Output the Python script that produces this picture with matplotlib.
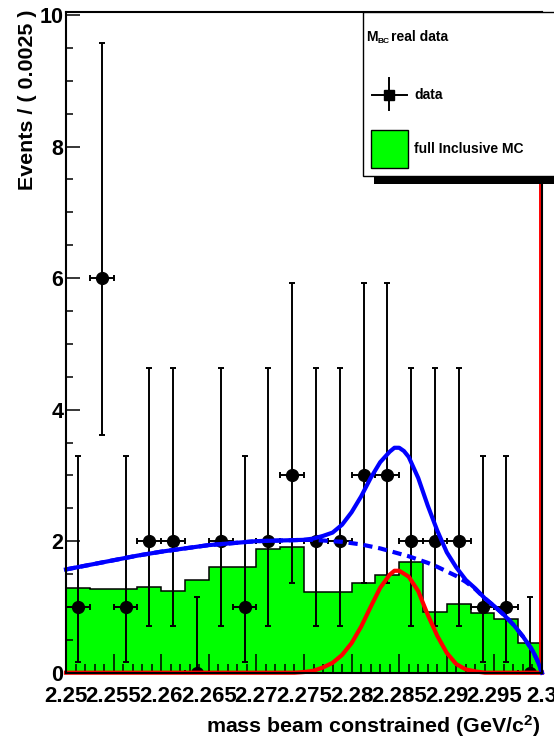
import matplotlib
matplotlib.use("Agg")
import matplotlib.pyplot as plt
from matplotlib.lines import Line2D
from matplotlib.patches import Rectangle
from matplotlib.ticker import MultipleLocator

plt.rcParams["font.family"] = ["Liberation Sans", "DejaVu Sans"]
plt.rcParams["font.weight"] = "bold"
plt.rcParams["mathtext.fontset"] = "custom"
plt.rcParams["mathtext.rm"] = "Liberation Sans:bold"
plt.rcParams["mathtext.bf"] = "Liberation Sans:bold"
plt.rcParams["mathtext.default"] = "rm"

# ---- data ----
# binning of the histogram (bin width 0.0025)
bin_edges = [2.25, 2.2525, 2.255, 2.2575, 2.26, 2.2625, 2.265, 2.2675, 2.27,
             2.2725, 2.275, 2.2775, 2.28, 2.2825, 2.285, 2.2875, 2.29,
             2.2925, 2.295, 2.2975, 2.30]
mc_counts = [1.29, 1.27, 1.27, 1.31, 1.24, 1.41, 1.61, 1.61, 1.88, 1.91,
             1.23, 1.23, 1.37, 1.49, 1.69, 0.92, 1.05, 0.91, 0.81, 0.45]

data_mass = [2.25125, 2.25375, 2.25625, 2.25875, 2.26125, 2.26375, 2.26625,
             2.26875, 2.27125, 2.27375, 2.27625, 2.27875, 2.28125, 2.28375,
             2.28625, 2.28875, 2.29125, 2.29375, 2.29625, 2.29875]
data_counts = [1, 6, 1, 2, 2, 0, 2, 1, 2, 3, 2, 2, 3, 3, 2, 2, 2, 1, 1, 0]
data_low = [0.17, 3.61, 0.17, 0.71, 0.71, 0.0, 0.71, 0.17, 0.71, 1.37,
            0.71, 0.71, 1.37, 1.37, 0.71, 0.71, 0.71, 0.17, 0.17, 0.0]
data_high = [3.30, 9.58, 3.30, 4.64, 4.64, 1.15, 4.64, 3.30, 4.64, 5.92,
             4.64, 4.64, 5.92, 5.92, 4.64, 4.64, 4.64, 3.30, 3.30, 1.15]
half_bin = 0.00125

# total fit (signal + background)
fit_mass = [2.250, 2.2525, 2.255, 2.2575, 2.260, 2.2625, 2.265, 2.2675, 2.270,
            2.2725, 2.275, 2.276, 2.277, 2.278, 2.279, 2.280, 2.281, 2.282,
            2.283, 2.284, 2.2845, 2.285, 2.2855, 2.286, 2.287, 2.288, 2.289,
            2.290, 2.291, 2.292, 2.293, 2.294, 2.295, 2.296, 2.297, 2.298,
            2.299, 2.2995, 2.300]
fit_total = [1.57, 1.64, 1.71, 1.78, 1.84, 1.89, 1.94, 1.97, 2.00,
             2.01, 2.02, 2.04, 2.08, 2.13, 2.25, 2.44, 2.68, 2.96,
             3.20, 3.36, 3.42, 3.42, 3.37, 3.28, 2.96, 2.54, 2.16,
             1.83, 1.60, 1.41, 1.28, 1.13, 1.01, 0.88, 0.73, 0.55,
             0.34, 0.19, 0.0]

# background component (dashed)
bkg_mass = [2.250, 2.2525, 2.255, 2.2575, 2.260, 2.2625, 2.265, 2.2675, 2.270,
            2.2725, 2.275, 2.276, 2.277, 2.278, 2.279, 2.280, 2.281, 2.282,
            2.283, 2.284, 2.285, 2.286, 2.287, 2.288, 2.289, 2.290, 2.291,
            2.292, 2.293, 2.294, 2.295, 2.296, 2.297, 2.298, 2.299, 2.2995,
            2.300]
bkg_vals = [1.57, 1.64, 1.71, 1.78, 1.84, 1.89, 1.94, 1.97, 2.00,
            2.01, 2.02, 2.02, 2.01, 2.00, 1.99, 1.97, 1.95, 1.92,
            1.89, 1.85, 1.81, 1.77, 1.72, 1.67, 1.61, 1.54, 1.47,
            1.38, 1.27, 1.13, 1.01, 0.88, 0.73, 0.55, 0.34, 0.19,
            0.0]

# signal component (red gaussian)
sig_mass = [2.250, 2.274, 2.275, 2.276, 2.277, 2.278, 2.279, 2.280, 2.281,
            2.282, 2.283, 2.284, 2.2845, 2.285, 2.286, 2.287, 2.288, 2.289,
            2.290, 2.291, 2.292, 2.293, 2.294, 2.300]
sig_vals = [0.0, 0.0, 0.01, 0.03, 0.08, 0.15, 0.27, 0.45, 0.70,
            1.00, 1.29, 1.49, 1.55, 1.55, 1.46, 1.24, 0.88, 0.56,
            0.30, 0.13, 0.05, 0.02, 0.0, 0.0]

x_ticks = [2.25, 2.255, 2.26, 2.265, 2.27, 2.275, 2.28, 2.285, 2.29, 2.295, 2.30]
x_tick_labels = ["2.25", "2.255", "2.26", "2.265", "2.27", "2.275", "2.28",
                 "2.285", "2.29", "2.295", "2.3"]
y_ticks = [0, 2, 4, 6, 8, 10]
y_tick_labels = ["0", "2", "4", "6", "8", "10"]

W, H = 554, 738


def fx(px):
    return px / W


def fy(py):
    return 1 - py / H


fig = plt.figure(figsize=(W / 100, H / 100), dpi=100)
ax = fig.add_axes([fx(66), fy(672.7), fx(542) - fx(66), fy(11.7) - fy(672.7)])

# MC histogram
ax.stairs(mc_counts, bin_edges, fill=True, color="#00ff00", zorder=1)
ax.stairs(mc_counts, bin_edges, color="black", lw=1.1, baseline=0, zorder=1.1)

# data points
lo_err = [c - l for c, l in zip(data_counts, data_low)]
hi_err = [h - c for c, h in zip(data_counts, data_high)]
ax.errorbar(data_mass, data_counts, yerr=[lo_err, hi_err], xerr=half_bin,
            fmt="o", color="black", ms=8.5, elinewidth=1.4, capsize=2.5,
            capthick=1.4, zorder=3)

# red vertical line at the right edge
ax.plot([2.2998, 2.2998], [0, 10.05], color="red", lw=1.4, zorder=2)

# fit curves
ax.plot(bkg_mass, bkg_vals, color="#0000ff", lw=3, ls=(0, (2.2, 1.4)),
        zorder=4, clip_on=False)
ax.plot(fit_mass, fit_total, color="#0000ff", lw=3, zorder=4.2, clip_on=False)
ax.plot(sig_mass, sig_vals, color="#ff0000", lw=3, zorder=4.1, clip_on=False)

ax.set_xlim(2.25, 2.30)
ax.set_ylim(0, 10.05)
ax.set_xticks(x_ticks, x_tick_labels)
ax.set_yticks(y_ticks, y_tick_labels)
ax.xaxis.set_minor_locator(MultipleLocator(0.001))
ax.yaxis.set_minor_locator(MultipleLocator(0.5))
ax.tick_params(axis="both", which="both", direction="in", top=False,
               right=False, width=1.1)
ax.tick_params(axis="x", which="major", length=13.5, pad=9.5, labelsize=16)
ax.tick_params(axis="x", which="minor", length=6.5)
ax.tick_params(axis="y", which="major", length=10, pad=2, labelsize=15.5)
ax.tick_params(axis="y", which="minor", length=5)
for sp in ax.spines.values():
    sp.set_linewidth(1.5)
    sp.set_zorder(5)

# axis titles
fig.text(fx(540), fy(733), r"mass beam constrained (GeV/c$^{2}$)",
         ha="right", va="baseline", fontsize=15.4, fontweight="bold")
fig.text(fx(33), fy(10), "Events / ( 0.0025 )", rotation=90,
         rotation_mode="anchor", ha="right", va="baseline", fontsize=15.4,
         fontweight="bold")

# legend box (cut off at the right edge like the original canvas)
fig.patches.append(Rectangle((fx(374), fy(184)), fx(640) - fx(374),
                             fy(176) - fy(184), transform=fig.transFigure,
                             facecolor="black", edgecolor="none", zorder=10))
fig.patches.append(Rectangle((fx(363), fy(176)), fx(640) - fx(363),
                             fy(11.7) - fy(176), transform=fig.transFigure,
                             facecolor="white", edgecolor="black", lw=1.0,
                             zorder=11))

fig.text(fx(366), fy(37), "M", ha="left", va="center", fontsize=10,
         fontweight="bold", zorder=12)
fig.text(fx(378), fy(41.5), "BC", ha="left", va="center", fontsize=6,
         fontweight="bold", zorder=12)
fig.text(fx(391), fy(37), "real data", ha="left", va="center", fontsize=10,
         fontweight="bold", zorder=12)

fig.lines.append(Line2D([fx(372), fx(407)], [fy(95), fy(95)],
                        transform=fig.transFigure, color="black", lw=1.4,
                        zorder=12))
fig.lines.append(Line2D([fx(389), fx(389)], [fy(78), fy(110)],
                        transform=fig.transFigure, color="black", lw=1.4,
                        zorder=12))
fig.lines.append(Line2D([fx(389)], [fy(95)], transform=fig.transFigure,
                        marker="s", ms=7, color="black", zorder=12))
fig.text(fx(414), fy(95), "data", ha="left", va="center", fontsize=10,
         fontweight="bold", zorder=12)

fig.patches.append(Rectangle((fx(371), fy(168)), fx(408) - fx(371),
                             fy(130) - fy(168), transform=fig.transFigure,
                             facecolor="#00ff00", edgecolor="black", lw=1.0,
                             zorder=12))
fig.text(fx(414), fy(149), "full Inclusive MC", ha="left", va="center",
         fontsize=10, fontweight="bold", zorder=12)

fig.savefig("out.png", dpi=100)
